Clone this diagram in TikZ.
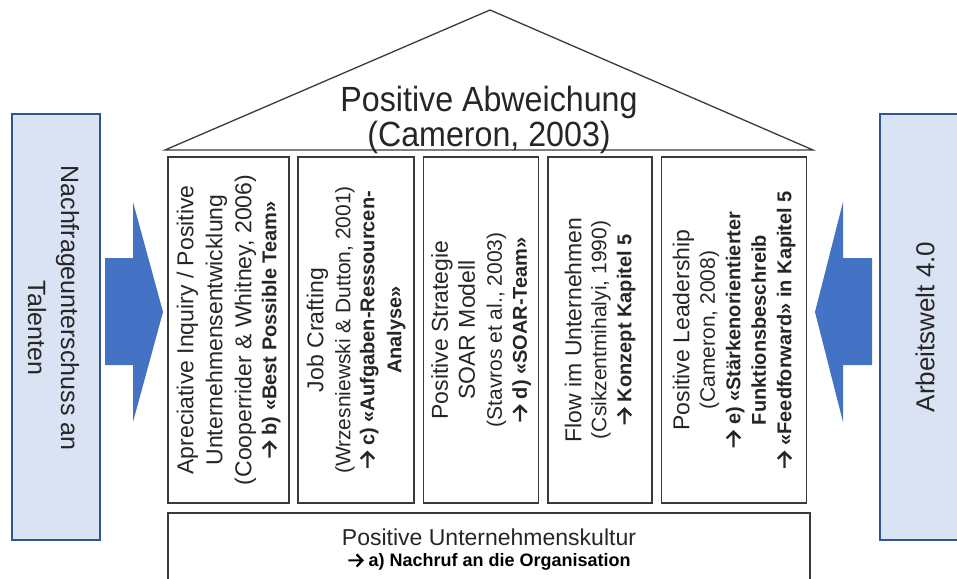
\documentclass[tikz,border=0pt]{standalone}
\usepackage{fontspec}
\setmainfont{Liberation Sans}
\newfontfamily\narrowsans[FakeStretch=0.92]{Liberation Sans}
\usetikzlibrary{positioning}
\definecolor{txt}{HTML}{262626}
\definecolor{edgegray}{HTML}{3A3A3A}
\definecolor{bluefill}{HTML}{DAE3F3}
\definecolor{blueedge}{HTML}{2F5597}
\definecolor{arrowblue}{HTML}{4472C4}
\newcommand{\myarr}{\tikz[baseline={(0,-0.34em)}, x=1em, y=1em]\draw[line width=0.12em, line join=miter] (0,0) -- (0.78,0) (0.45,0.34) -- (0.78,0) -- (0.45,-0.34);}
\newcommand{\cit}[1]{{\fontsize{21}{26}\selectfont #1}}
\newcommand{\bl}[1]{{\fontsize{20}{26}\selectfont\bfseries #1}}
\begin{document}
\begin{tikzpicture}[x=1pt,y=-1pt,
  pillar/.style={draw=edgegray, line width=1.3pt, rotate=90, minimum width=346pt,
    align=center, text=txt, inner sep=0pt, font=\fontsize{23}{27}\selectfont},
  sidebox/.style={draw=blueedge, line width=1.6pt, fill=bluefill},
  sidetext/.style={text=txt, align=center},
  bigarrow/.style={fill=arrowblue, draw=none},
  roof/.style={draw=edgegray, line width=1.3pt, line join=miter},
  rooftxt/.style={text=txt, anchor=base, inner sep=0pt, font=\narrowsans\fontsize{35}{35}\selectfont}]
\useasboundingbox (0,0) rectangle (957,578);

% roof
\coordinate (rl) at (165,150);
\coordinate (rt) at (490,10);
\coordinate (rr) at (813,150);
\draw[roof] (rl) -- (rt) -- (rr) -- cycle;
\node[rooftxt] (roofa) at (489,111) {Positive Abweichung};
\node[rooftxt] (roofb) at (489,146) {(Cameron, 2003)};

% pillars
\node[pillar, minimum height=121pt, font=\fontsize{23}{29}\selectfont] (p1) at (228.5,330)
  {Apreciative Inquiry / Positive\\Unternehmensentwicklung\\(Cooperrider \& Whitney, 2006)\\[-4pt]\bl{\myarr{} b) «Best Possible Team»}};
\node[pillar, minimum height=116pt] (p2) at (356,330)
  {Job Crafting\\\cit{(Wrzesniewski \& Dutton, 2001)}\\[-3pt]\bl{\myarr{} c) «Aufgaben-Ressourcen-}\\\bl{Analyse»}};
\node[pillar, minimum height=115pt] (p3) at (481,330)
  {Positive Strategie\\SOAR Modell\\\cit{(Stavros et al., 2003)}\\[-2pt]\bl{\myarr{} d) «SOAR-Team»}};
\node[pillar, minimum height=104pt, font=\fontsize{23}{25}\selectfont] (p4) at (600,330)
  {Flow im Unternehmen\\\cit{(Csikzentmihalyi, 1990)}\\\bl{\myarr{} Konzept Kapitel 5}};
\node[pillar, minimum height=145pt, font=\fontsize{23}{25.5}\selectfont] (p5) at (734,330)
  {Positive Leadership\\\cit{(Cameron, 2008)}\\\bl{\myarr{} e) «Stärkenorientierter}\\\bl{Funktionsbeschreib}\\\bl{\myarr{} «Feedforward» in Kapitel 5}};

% foundation
\draw[draw=edgegray, line width=1.3pt] (168,513) rectangle (810,600);
\node[text=txt, align=center, font=\fontsize{23}{23}\selectfont] (found) at (489,537)
  {Positive Unternehmenskultur};
\node[text=black, font=\fontsize{18}{18}\selectfont\bfseries, below=4pt of found.south, anchor=north, inner sep=0pt] (foundb)
  {\myarr{} a) Nachruf an die Organisation};

% left side
\node[sidebox, minimum width=88pt, minimum height=426pt, inner sep=0pt] (lbox) at (56,327) {};
\node[sidetext, rotate=-90, font=\fontsize{25}{33}\selectfont] (ltext) at (53.5,308)
  {Nachfrageunterschuss an\\\hspace*{40pt}Talenten};
\fill[bigarrow] (105,258) -- (133,258) -- (133,202) -- (163,312) -- (133,422) -- (133,365) -- (105,365) -- cycle;

% right side
\node[sidebox, minimum width=90pt, minimum height=426pt, inner sep=0pt, anchor=west] (rbox) at (879,327) {};
\node[sidetext, rotate=90, font=\fontsize{26}{30}\selectfont] (rtext) at (925,327) {Arbeitswelt 4.0};
\fill[bigarrow] (872,258) -- (843,258) -- (843,202) -- (815,312) -- (843,422) -- (843,365) -- (872,365) -- cycle;
\end{tikzpicture}
\end{document}
